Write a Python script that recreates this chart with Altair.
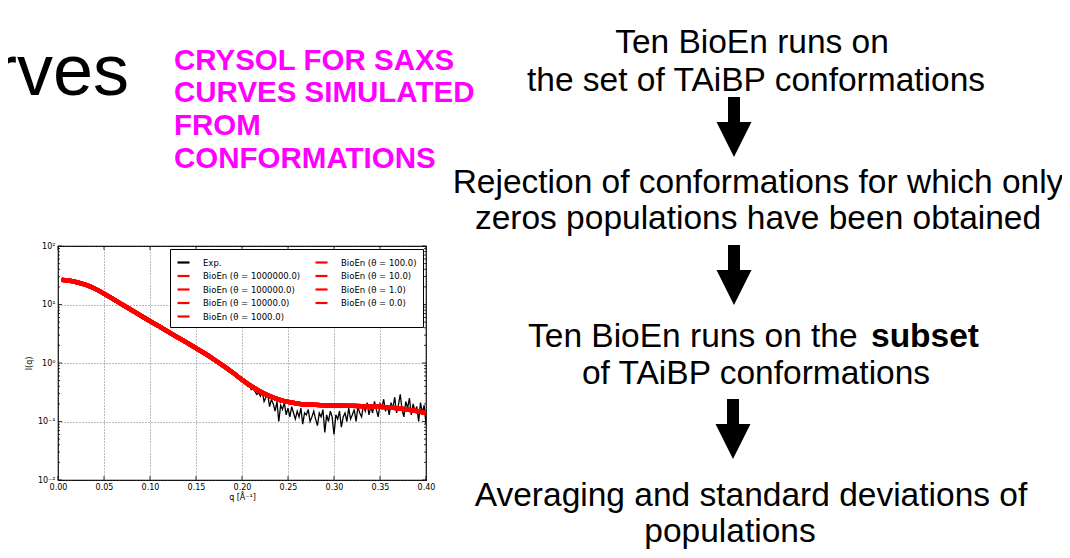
import altair as alt
import pandas as pd

# ---------------- data ----------------
# BioEn fitted curves (all eight theta values overlap on the picture)
q_fit = [0.004, 0.01, 0.02, 0.03, 0.04, 0.05, 0.06, 0.07, 0.08, 0.09,
         0.10, 0.11, 0.12, 0.13, 0.14, 0.15, 0.16, 0.17, 0.18, 0.19,
         0.20, 0.21, 0.22, 0.23, 0.24, 0.25, 0.26, 0.27, 0.28, 0.29,
         0.30, 0.31, 0.32, 0.33, 0.34, 0.35, 0.36, 0.37, 0.38, 0.39, 0.40]
i_fit = [26.3, 25.8, 24.2, 21.7, 18.65, 15.35, 12.36, 9.95, 8.02, 6.46,
         5.20, 4.21, 3.40, 2.75, 2.23, 1.80, 1.445, 1.14, 0.89, 0.684,
         0.519, 0.403, 0.324, 0.272, 0.237, 0.216, 0.203, 0.196, 0.192, 0.189,
         0.1875, 0.186, 0.185, 0.183, 0.181, 0.178, 0.174, 0.168, 0.160, 0.151, 0.141]

thetas = ["1000000.0", "100000.0", "10000.0", "1000.0", "100.0", "10.0", "1.0", "0.0"]

# Experimental curve
q_exp = [0.004, 0.01, 0.02, 0.03, 0.04, 0.05, 0.06, 0.07, 0.08, 0.09,
         0.10, 0.11, 0.12, 0.13, 0.14, 0.15, 0.16, 0.17,
         0.180, 0.182, 0.184, 0.186, 0.188, 0.190, 0.192, 0.194, 0.196, 0.198,
         0.200, 0.202, 0.204, 0.206, 0.208, 0.210, 0.212, 0.214, 0.216, 0.218,
         0.220, 0.222, 0.224, 0.226, 0.228, 0.230, 0.232, 0.234, 0.236, 0.238,
         0.240, 0.242, 0.244, 0.246, 0.248, 0.250, 0.252, 0.254, 0.256, 0.258,
         0.260, 0.262, 0.264, 0.266, 0.268, 0.270, 0.272, 0.274, 0.276, 0.278,
         0.280, 0.282, 0.284, 0.286, 0.288, 0.290, 0.292, 0.294, 0.296, 0.298,
         0.300, 0.302, 0.304, 0.306, 0.308, 0.310, 0.312, 0.314, 0.316, 0.318,
         0.320, 0.322, 0.324, 0.326, 0.328, 0.330, 0.332, 0.334, 0.336, 0.338,
         0.340, 0.342, 0.344, 0.346, 0.348, 0.350, 0.352, 0.354, 0.356, 0.358,
         0.360, 0.362, 0.364, 0.366, 0.368, 0.370, 0.372, 0.374, 0.376, 0.378,
         0.380, 0.382, 0.384, 0.386, 0.388, 0.390, 0.392, 0.394, 0.396, 0.398,
         0.400]
i_exp = [26.4, 25.7, 24.1, 21.6, 18.7, 15.3, 12.4, 9.9, 8.0, 6.5,
         5.2, 4.2, 3.4, 2.75, 2.23, 1.80, 1.44, 1.14,
         0.88, 0.85, 0.79, 0.76, 0.70, 0.66, 0.62, 0.64, 0.55, 0.57,
         0.50, 0.47, 0.44, 0.40, 0.42, 0.35, 0.37, 0.33, 0.29, 0.31,
         0.27, 0.32, 0.22, 0.26, 0.29, 0.18, 0.24, 0.20, 0.15, 0.22,
         0.10, 0.19, 0.16, 0.21, 0.13, 0.17, 0.12, 0.18, 0.14, 0.11,
         0.15, 0.12, 0.17, 0.09, 0.14, 0.13, 0.16, 0.10, 0.12, 0.15,
         0.11, 0.085, 0.14, 0.12, 0.16, 0.065, 0.13, 0.10, 0.15, 0.12,
         0.06, 0.13, 0.11, 0.15, 0.08, 0.12, 0.14, 0.10, 0.17, 0.11,
         0.13, 0.16, 0.10, 0.18, 0.14, 0.12, 0.19, 0.15, 0.21, 0.13,
         0.18, 0.14, 0.22, 0.16, 0.12, 0.20, 0.17, 0.24, 0.15, 0.19,
         0.13, 0.21, 0.17, 0.26, 0.14, 0.19, 0.29, 0.16, 0.12, 0.22,
         0.17, 0.25, 0.13, 0.20, 0.15, 0.18, 0.10, 0.21, 0.14, 0.19,
         0.09]

x_ticks = [0.0, 0.05, 0.10, 0.15, 0.20, 0.25, 0.30, 0.35, 0.40]
y_ticks = [0.01, 0.1, 1, 10, 100]
y_minor = [0.02, 0.03, 0.04, 0.05, 0.06, 0.07, 0.08, 0.09,
           0.2, 0.3, 0.4, 0.5, 0.6, 0.7, 0.8, 0.9,
           2, 3, 4, 5, 6, 7, 8, 9,
           20, 30, 40, 50, 60, 70, 80, 90]

title_text = "Curves"
crysol_lines = ["CRYSOL FOR SAXS", "CURVES SIMULATED", "FROM", "CONFORMATIONS"]
step1_lines = ["Ten BioEn runs on", "the set of TAiBP conformations"]
step2_lines = ["Rejection of conformations for which only", "zeros populations have been obtained"]
step3_plain = "Ten BioEn runs on the "
step3_bold = "subset"
step3_line2 = "of TAiBP conformations"
step4_lines = ["Averaging and standard deviations of", "populations"]

# ---------------- layout (page pixels) ----------------
OX, OY = 58, 246          # plot-area origin on the page
PW, PH = 368, 234         # plot-area size
SANS = "Liberation Sans"
PLOTFONT = "DejaVu Sans"

exp_label = "Exp."
fit_labels = [f"BioEn (θ = {t})" for t in thetas]
domain = [exp_label] + fit_labels
colors = ["black"] + ["#ff0000"] * len(fit_labels)

df_exp = pd.DataFrame({"q": q_exp, "I": i_exp, "s": exp_label})
df_fit = pd.concat([pd.DataFrame({"q": q_fit, "I": i_fit, "s": lab}) for lab in fit_labels])

xaxis = alt.Axis(values=x_ticks, format=".2f", title="q [Å⁻¹]", grid=True, labelFlush=False,
                 gridDash=[1, 2], gridColor="#555", gridWidth=0.8, ticks=False, domain=False,
                 labelFont=PLOTFONT, labelFontSize=8, labelColor="black", labelPadding=3,
                 titleFont=PLOTFONT, titleFontSize=8, titleFontWeight="normal",
                 titleColor="black", titlePadding=2)
yaxis = alt.Axis(values=y_ticks, title="I(q)", grid=True, labelFlush=False,
                 labelExpr="datum.value > 50 ? '10²' : datum.value > 5 ? '10¹' : datum.value > 0.5 ? '10⁰' : datum.value > 0.05 ? '10⁻¹' : '10⁻²'",
                 gridDash=[1, 2], gridColor="#555", gridWidth=0.8, ticks=False, domain=False,
                 labelFont=PLOTFONT, labelFontSize=8, labelColor="black", labelPadding=3,
                 titleFont=PLOTFONT, titleFontSize=8, titleFontWeight="normal",
                 titleColor="black", titlePadding=4)
xscale = alt.Scale(domain=[0, 0.4], nice=False, zero=False)
yscale = alt.Scale(type="log", domain=[0.01, 100], nice=False)


def X():
    return alt.X("q:Q", scale=xscale, axis=xaxis)


def Y():
    return alt.Y("I:Q", scale=yscale, axis=yaxis)


legend = alt.Legend(orient="top-right", columns=2, title=None)
color = alt.Color("s:N", scale=alt.Scale(domain=domain, range=colors), legend=legend)

exp_line = alt.Chart(df_exp).mark_line(strokeWidth=1.3, clip=True).encode(
    x=X(), y=Y(), color=color, detail="s:N")
fit_line = alt.Chart(df_fit).mark_line(strokeWidth=4.3, interpolate="monotone", clip=True).encode(
    x=X(), y=Y(), color=color, detail="s:N")

# inside ticks (matplotlib classic style)
tx = pd.DataFrame({"q": x_ticks})
ty = pd.DataFrame({"I": y_ticks})
tm = pd.DataFrame({"I": y_minor})
tick_layers = [
    alt.Chart(tx).mark_rule(color="black", strokeWidth=0.8).encode(x=X(), y=alt.value(PH), y2=alt.value(PH - 4)),
    alt.Chart(tx).mark_rule(color="black", strokeWidth=0.8).encode(x=X(), y=alt.value(0), y2=alt.value(4)),
    alt.Chart(ty).mark_rule(color="black", strokeWidth=0.8).encode(y=Y(), x=alt.value(0), x2=alt.value(4)),
    alt.Chart(ty).mark_rule(color="black", strokeWidth=0.8).encode(y=Y(), x=alt.value(PW), x2=alt.value(PW - 4)),
    alt.Chart(tm).mark_rule(color="black", strokeWidth=0.8).encode(y=Y(), x=alt.value(0), x2=alt.value(2)),
    alt.Chart(tm).mark_rule(color="black", strokeWidth=0.8).encode(y=Y(), x=alt.value(PW), x2=alt.value(PW - 2)),
]


def text(txt, px, py, size, align="center", weight="normal", col="black", font=SANS):
    return alt.Chart(pd.DataFrame({"t": [txt]})).mark_text(
        align=align, baseline="alphabetic", font=font, fontSize=size,
        fontWeight=weight, color=col).encode(
        text="t:N", x=alt.value(px - OX), y=alt.value(py - OY))


ARROW = "M-0.2,-1L0.2,-1L0.2,-0.167L0.583,-0.167L0,1L-0.583,-0.167L-0.2,-0.167Z"


def arrow(px, py):
    return alt.Chart(pd.DataFrame({"a": [0]})).mark_point(
        shape=ARROW, size=3600, filled=True, color="black", opacity=1, strokeWidth=0).encode(
        x=alt.value(px - OX), y=alt.value(py - OY))


FS = 33.5
MAG = "#ff00ff"
text_layers = [
    text(title_text, 129, 95, 72, align="right"),
    text(crysol_lines[0], 174, 70, 29.5, align="left", weight="bold", col=MAG),
    text(crysol_lines[1], 174, 102, 29.5, align="left", weight="bold", col=MAG),
    text(crysol_lines[2], 174, 135, 29.5, align="left", weight="bold", col=MAG),
    text(crysol_lines[3], 174, 168, 29.5, align="left", weight="bold", col=MAG),
    text(step1_lines[0], 752, 53, FS),
    text(step1_lines[1], 756, 91, FS),
    text(step2_lines[0], 758, 193, FS),
    text(step2_lines[1], 758, 229, FS),
    text(step3_plain, 528, 347, FS, align="left"),
    text(step3_bold, 871, 347, FS, align="left", weight="bold"),
    text(step3_line2, 756, 384, FS),
    text(step4_lines[0], 751, 506, FS),
    text(step4_lines[1], 730, 542, FS),
    arrow(734, 127),
    arrow(734, 275),
    arrow(733, 429),
]

chart = alt.layer(exp_line, fit_line, *tick_layers, *text_layers).properties(
    width=PW, height=PH,
    padding={"left": OX - 8, "top": OY - 8, "right": 1054 - (OX - 8) - PW, "bottom": 542 - (OY - 8) - PH},
    autosize=alt.AutoSizeParams(type="none"),
    background="white",
).configure_view(
    stroke="black", strokeWidth=1.2
).configure_legend(
    fillColor="white", strokeColor="black", padding=6, cornerRadius=0,
    labelFont=PLOTFONT, labelFontSize=8.5, labelColor="black", labelLimit=0,
    symbolType="stroke", symbolStrokeWidth=2.2, symbolSize=144,
    rowPadding=1.5, columnPadding=10, labelOffset=12, offset=3,
)

chart.save("out.html", embed_options={"renderer": "svg", "actions": False})
